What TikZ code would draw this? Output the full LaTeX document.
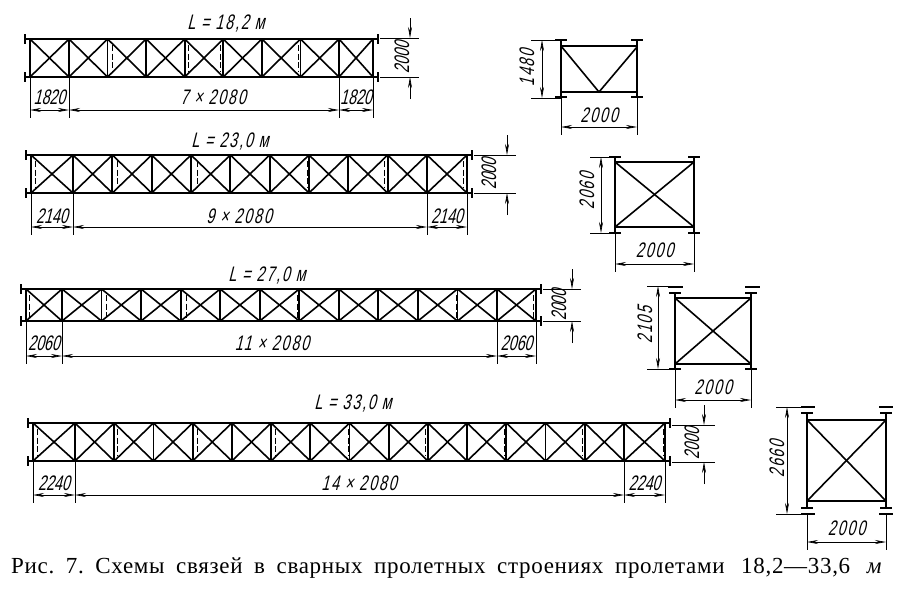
\documentclass[tikz,border=0pt]{standalone}
\usepackage{fontspec}
\usepackage{xcolor}
\usetikzlibrary{arrows.meta}
\setmainfont{Liberation Serif}
\newfontfamily\dimfont[FakeStretch=.68,FakeSlant=.25]{Liberation Sans}
\newfontfamily\widefont[FakeStretch=.68,FakeSlant=.25,LetterSpace=9]{Liberation Sans}
\tikzset{
  chord/.style={black,line width=2.2pt},
  post/.style={black,line width=1.8pt},
  brace/.style={black,line width=1.6pt},
  hidden/.style={black,line width=1pt,dash pattern=on 6pt off 2.5pt},
  tick/.style={black,line width=2.2pt},
  dimline/.style={black,line width=.7pt,{Stealth[length=11pt,width=4pt,inset=3.5pt]}-{Stealth[length=11pt,width=4pt,inset=3.5pt]}},
  pointer/.style={black,line width=.7pt,-{Stealth[length=11pt,width=4pt,inset=3.5pt]}},
  extline/.style={black,line width=.7pt},
  dimtext/.style={font=\dimfont\fontsize{21}{21}\selectfont,inner sep=0pt},
  widetext/.style={font=\widefont\fontsize{21}{21}\selectfont,inner sep=0pt}
}
\begin{document}
\begin{tikzpicture}[x=1pt,y=-1pt]
\useasboundingbox (0,0) rectangle (904,589);

\foreach \id/\xa/\xb/\xc/\xd/\yt/\yb/\n/\ydim/\ytxt/\first/\spantxt/\xm in {
  a/30/69/339/373/39/77/7/110/97/1820/{7 × 2080}/213,
  b/31/73/427/467/155/193/9/227/216/2140/{9 × 2080}/239,
  c/26/62/497/536/289/321/11/356/343/2060/{11 × 2080}/272,
  d/33/75/624/665/423/461/14/495/483/2240/{14 × 2080}/359}{
\pgfmathsetmacro{\dx}{(\xc-\xb)/\n}
\draw[chord] (\xa-4,\yt) -- (\xd+4,\yt);
\draw[chord] (\xa-4,\yb) -- (\xd+4,\yb);
\draw[tick] (\xa-5,\yt-5) -- (\xa-5,\yt+5);
\draw[tick] (\xa-5,\yb-5) -- (\xa-5,\yb+5);
\draw[tick] (\xd+5,\yt-5) -- (\xd+5,\yt+5);
\draw[tick] (\xd+5,\yb-5) -- (\xd+5,\yb+5);
\draw[post] (\xa,\yt) -- (\xa,\yb);
\draw[post] (\xd,\yt) -- (\xd,\yb);
\draw[brace] (\xa,\yt) -- (\xb,\yb);
\draw[brace] (\xa,\yb) -- (\xb,\yt);
\draw[brace] (\xc,\yt) -- (\xd,\yb);
\draw[brace] (\xc,\yb) -- (\xd,\yt);
\foreach \i in {0,...,\n}{
\draw[post] (\xb+\i*\dx,\yt) -- (\xb+\i*\dx,\yb);
}
\foreach \i [evaluate=\i as \j using int(\i+1)] in {1,...,\n}{
\draw[brace] (\xb+\i*\dx-\dx,\yt) -- (\xb+\j*\dx-\dx,\yb);
\draw[brace] (\xb+\i*\dx-\dx,\yb) -- (\xb+\j*\dx-\dx,\yt);
}
\draw[extline] (\xa,\yb) -- (\xa,\ydim+8);
\draw[extline] (\xb,\yb) -- (\xb,\ydim+8);
\draw[extline] (\xc,\yb) -- (\xc,\ydim+8);
\draw[extline] (\xd,\yb) -- (\xd,\ydim+8);
\draw[dimline] (\xa,\ydim) -- (\xb,\ydim);
\draw[dimline] (\xb,\ydim) -- (\xc,\ydim);
\draw[dimline] (\xc,\ydim) -- (\xd,\ydim);
\node[dimtext] (first\id) at ({(\xa+\xb)/2},\ytxt) {\first};
\node[widetext] (span\id) at (\xm,\ytxt) {\spantxt};
\node[dimtext] (last\id) at ({(\xc+\xd)/2},\ytxt) {\first};
}

\foreach \x/\y in {112/39,188/39,220/39,298/39,
  35/155,117/155,197/155,307/155,384/155,463/155,
  29/289,106/289,186/289,297/289,377/289,456/289,533/289,
  37/423,117/423,197/423,275/423,348/423,425/423,504/423,582/423,663/423}{
\draw[hidden] (\x,\y+6) -- (\x,\y+33);
}

\node[widetext] (lena) at (226,24) {L = 18,2 м};
\node[widetext] (lenb) at (230,142) {L = 23,0 м};
\node[widetext] (lenc) at (267,276) {L = 27,0 м};
\node[widetext] (lend) at (353,404) {L = 33,0 м};

\foreach \id/\xa/\yt/\yb/\xd/\xt/\xe in {a/380/38/77/410/402/419,b/474/155/193/507/489/516,c/543/289/321/572/559/581,d/672/425/462/704/692/715}{
\draw[extline] (\xa,\yt) -- (\xe,\yt);
\draw[extline] (\xa,\yb) -- (\xe,\yb);
\draw[pointer] (\xd,\yt-20) -- (\xd,\yt);
\draw[pointer] (\xd,\yb+22) -- (\xd,\yb);
\node[dimtext,rotate=90] (high\id) at (\xt,{(\yt+\yb)/2}) {2000};
}

\foreach \id/\xl/\xr/\yt/\yb/\ya/\ye/\yA/\yE/\xd/\yd/\xt/\yh/\yw/\lab in {
  a/561/637/46/92/40/97/40/98/542/127/527/68/115/1480,
  b/615/694/162/227/157/233/157/233/601/264/587/191/250/2060,
  c/675/751/298/364/293/369/286/369/658/400/645/325/387/2105,
  d/807/886/420/501/413/508/407/514/787/542/777/459/528/2660}{
\draw[post] (\xl,\ya) -- (\xl,\ye);
\draw[post] (\xr,\ya) -- (\xr,\ye);
\draw[brace] (\xl,\yt) -- (\xr,\yt);
\draw[brace] (\xl,\yb) -- (\xr,\yb);
\draw[tick] (\xl-6,\ya) -- (\xl+6,\ya);
\draw[tick] (\xr-6,\ya) -- (\xr+6,\ya);
\draw[tick] (\xl-6,\ye) -- (\xl+6,\ye);
\draw[tick] (\xr-6,\ye) -- (\xr+6,\ye);
\draw[extline] (\xd-11,\yA) -- (\xl,\yA);
\draw[extline] (\xd-11,\yE) -- (\xl,\yE);
\draw[extline] (\xl,\yE) -- (\xl,\yd+8);
\draw[extline] (\xr,\yE) -- (\xr,\yd+8);
\draw[dimline] (\xd,\yA) -- (\xd,\yE);
\draw[dimline] (\xl,\yd) -- (\xr,\yd);
\node[widetext,rotate=90] (high\id) at (\xt,\yh) {\lab};
\node[widetext] (wide\id) at ({(\xl+\xr)/2},\yw) {2000};
}

\draw[brace] (561,46) -- (599,92) -- (637,47);
\foreach \id/\xl/\xr/\yt/\yb in {b/615/694/162/227,c/675/751/298/364,d/807/886/420/501}{
\draw[brace] (\xl,\yt) -- (\xr,\yb);
\draw[brace] (\xl,\yb) -- (\xr,\yt);
}
\draw[tick] (668,287) -- (683,287);
\draw[tick] (745,287) -- (760,287);
\draw[tick] (801,407) -- (815,407);
\draw[tick] (879,407) -- (893,407);
\draw[tick] (801,514) -- (815,514);
\draw[tick] (879,514) -- (893,514);

\node[anchor=base west,inner sep=0pt] (caption) at (11,573) {\fontsize{23}{23}\selectfont\addfontfeatures{LetterSpace=3}\frenchspacing\makebox[871pt][s]{Рис. 7. Схемы связей в сварных пролетных строениях пролетами\hspace{5pt} 18,2—33,6\hspace{5pt} \textit{м}}};
\end{tikzpicture}
\end{document}
